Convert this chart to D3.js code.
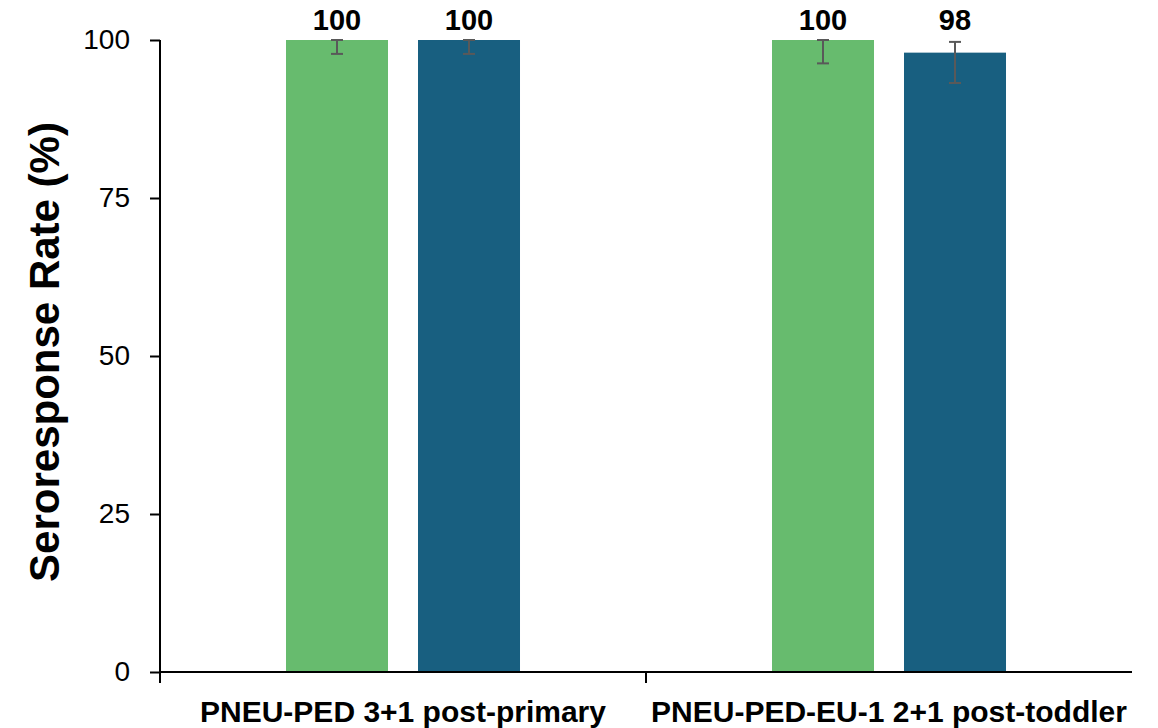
<!DOCTYPE html>
<html>
<head>
<meta charset="utf-8">
<script src="https://cdn.jsdelivr.net/npm/d3@7"></script>
<style>
  html, body { margin: 0; padding: 0; background: #ffffff; }
  svg { display: block; font-family: "Liberation Sans", Arial, sans-serif; }
</style>
</head>
<body>
<svg id="chart" width="1158" height="728"></svg>
<script>
// Seroresponse rates with 95% confidence intervals per study and vaccine group
const categories = ["PNEU-PED 3+1 post-primary", "PNEU-PED-EU-1 2+1 post-toddler"];
const seriesNames = ["Group 1", "Group 2"];
const group1Values = [100, 100];
const group2Values = [100, 98];
const group1Lower = [97.8, 96.3];
const group1Upper = [100, 100];
const group2Lower = [97.8, 93.2];
const group2Upper = [100, 99.7];
const yTicks = [0, 25, 50, 75, 100];
const yTitle = "Seroresponse Rate (%)";

const colors = { "Group 1": "#67bb6e", "Group 2": "#185f80" };

const rows = [];
categories.forEach((c, i) => {
  rows.push({ cat: c, series: "Group 1", value: group1Values[i], lo: group1Lower[i], hi: group1Upper[i] });
  rows.push({ cat: c, series: "Group 2", value: group2Values[i], lo: group2Lower[i], hi: group2Upper[i] });
});

const margin = { left: 160, right: 26, top: 40, bottom: 56 };
const W = 1158, H = 728;
const svg = d3.select("#chart");

const x = d3.scaleBand().domain(categories).range([margin.left, W - margin.right]).padding(0);
const xInner = d3.scaleBand().domain(seriesNames).range([0, x.bandwidth()])
  .paddingInner(0.2273).paddingOuter(0.9545);
const y = d3.scaleLinear().domain([0, 100]).range([H - margin.bottom, margin.top]);

// Bars
svg.append("g").selectAll("rect").data(rows).join("rect")
  .attr("x", d => x(d.cat) + xInner(d.series))
  .attr("y", d => y(d.value))
  .attr("width", xInner.bandwidth())
  .attr("height", d => y(0) - y(d.value))
  .attr("fill", d => colors[d.series]);

// Error bars
const eb = svg.append("g").attr("stroke", "#595959").attr("stroke-width", 2).attr("fill", "none");
rows.forEach(d => {
  const cx = x(d.cat) + xInner(d.series) + xInner.bandwidth() / 2;
  eb.append("line").attr("x1", cx).attr("x2", cx).attr("y1", y(d.lo)).attr("y2", y(d.hi));
  eb.append("line").attr("x1", cx - 6).attr("x2", cx + 6).attr("y1", y(d.lo)).attr("y2", y(d.lo));
  eb.append("line").attr("x1", cx - 6).attr("x2", cx + 6).attr("y1", y(d.hi)).attr("y2", y(d.hi));
});

// Value labels, aligned in one row above the plot
const labelY = y(y.domain()[1]) - 10;
svg.append("g").selectAll("text").data(rows).join("text")
  .attr("x", d => x(d.cat) + xInner(d.series) + xInner.bandwidth() / 2)
  .attr("y", labelY)
  .attr("text-anchor", "middle")
  .attr("font-size", 29)
  .attr("font-weight", "bold")
  .attr("fill", "#000")
  .text(d => d.value);

// Y axis
const yAxis = svg.append("g")
  .attr("transform", `translate(${margin.left},0)`)
  .call(d3.axisLeft(y).tickValues(yTicks).tickSize(10).tickPadding(20).tickSizeOuter(0));
yAxis.select(".domain").remove();
yAxis.append("line").attr("x1", 0).attr("x2", 0).attr("y1", y(100)).attr("y2", y(0) + 11)
  .attr("stroke", "#000").attr("stroke-width", 2);
yAxis.selectAll(".tick line").attr("stroke", "#000").attr("stroke-width", 2);
yAxis.selectAll(".tick text").attr("font-size", 28).attr("fill", "#000")
  .attr("font-family", "'Liberation Sans', Arial, sans-serif");

// X axis
const xAxis = svg.append("g").attr("transform", `translate(0,${y(0)})`);
xAxis.append("line").attr("x1", margin.left).attr("x2", W - margin.right).attr("y1", 0).attr("y2", 0)
  .attr("stroke", "#000").attr("stroke-width", 2);
xAxis.selectAll("line.sep").data(categories.slice(1)).join("line").attr("class", "sep")
  .attr("x1", d => x(d)).attr("x2", d => x(d)).attr("y1", 0).attr("y2", 11)
  .attr("stroke", "#000").attr("stroke-width", 2);
xAxis.selectAll("text").data(categories).join("text")
  .attr("x", d => x(d) + x.bandwidth() / 2)
  .attr("y", 50)
  .attr("text-anchor", "middle")
  .attr("font-size", 30)
  .attr("font-weight", "bold")
  .attr("fill", "#000")
  .text(d => d);

// Y axis title
svg.append("text")
  .attr("transform", `translate(59,${(y(0) + y(100)) / 2 - 4}) rotate(-90)`)
  .attr("text-anchor", "middle")
  .attr("font-size", 42)
  .attr("font-weight", "bold")
  .attr("fill", "#000")
  .text(yTitle);
</script>
</body>
</html>
